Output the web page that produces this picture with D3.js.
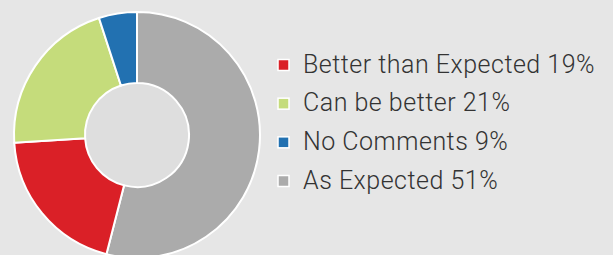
<!DOCTYPE html>
<html>
<head>
<meta charset="utf-8">
<style>
body { margin: 0; background: #e6e6e6; }
text { font-family: Roboto, "Open Sans", sans-serif; font-weight: 300; fill: #333; }
</style>
</head>
<body>
<script src="https://cdn.jsdelivr.net/npm/d3@7"></script>
<script>
// legend order
const categories = ["Better than Expected", "Can be better", "No Comments", "As Expected"];
const labelPct = [19, 21, 9, 51];
// slice sizes as drawn in the picture (they do not follow the labels)
const sliceValues = [20, 21, 5, 54];
const colors = ["#da2027", "#c5dc7b", "#2271b1", "#ababab"];
// drawing order, clockwise from 12 o'clock
const drawOrder = [3, 0, 1, 2];

const width = 613, height = 255;
const cx = 137, cy = 135, outerR = 123, innerR = 52;

const svg = d3.select("body").append("svg")
    .attr("width", width)
    .attr("height", height);

svg.append("rect").attr("width", width).attr("height", height).attr("fill", "#e6e6e6");

const pie = d3.pie().sort(null).value(i => sliceValues[i]);
const arc = d3.arc().innerRadius(innerR).outerRadius(outerR);

const g = svg.append("g").attr("transform", `translate(${cx},${cy})`);

g.append("circle").attr("r", innerR).attr("fill", "#dedede");

g.selectAll("path")
  .data(pie(drawOrder))
  .enter().append("path")
    .attr("d", arc)
    .attr("fill", d => colors[d.data])
    .attr("stroke", "#fff")
    .attr("stroke-width", 2);

// legend
const y = d3.scalePoint().domain(d3.range(categories.length)).range([65, 181]);

const leg = svg.append("g").selectAll("g")
  .data(d3.range(categories.length))
  .enter().append("g")
    .attr("transform", i => `translate(278,${y(i)})`);

leg.append("rect")
    .attr("x", 0).attr("y", -5.5)
    .attr("width", 11).attr("height", 11)
    .attr("fill", i => colors[i])
    .attr("stroke", "#fff")
    .attr("stroke-width", 1.5);

leg.append("text")
    .attr("x", 25)
    .attr("y", 7.5)
    .style("font-size", "25px")
    .style("letter-spacing", "0.5px")
    .text(i => `${categories[i]} ${labelPct[i]}%`);
</script>
</body>
</html>
